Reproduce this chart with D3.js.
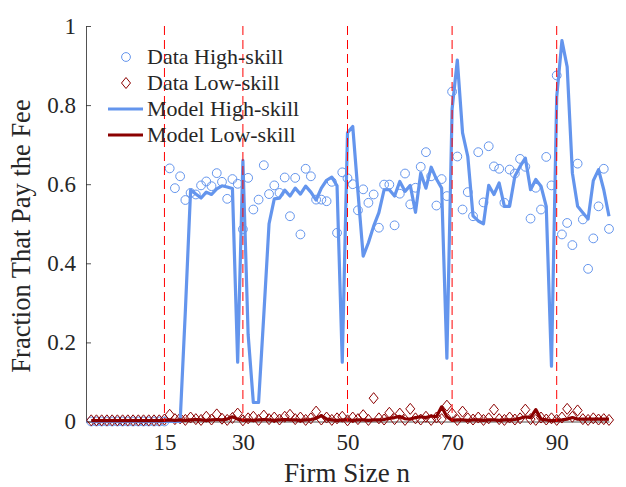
<!DOCTYPE html>
<html>
<head>
<meta charset="utf-8">
<script src="https://cdn.jsdelivr.net/npm/d3@7"></script>
<style>
  html, body { margin: 0; padding: 0; background: #fff; }
  svg { display: block; }
  text { font-family: 'Liberation Serif', 'Times New Roman', Times, 'DejaVu Serif', 'Noto Serif', serif; fill: #262626; }
</style>
</head>
<body>
<div class="graph"></div>
<script>
(function () {
  'use strict';

  // firm sizes 1..100
  var firmSize = d3.range(1, 101);

  var dataHigh = [
    0, 0, 0, 0, 0, 0, 0, 0, 0, 0,
    0, 0, 0, 0, 0, 0.64, 0.59, 0.62, 0.56, 0.578,
    0.574, 0.597, 0.607, 0.595, 0.628, 0.606, 0.563, 0.613, 0.601, 0.486,
    0.616, 0.536, 0.561, 0.648, 0.575, 0.597, 0.578, 0.617, 0.519, 0.616,
    0.473, 0.639, 0.62, 0.561, 0.561, 0.557, 0.606, 0.477, 0.63, 0.615,
    0.6, 0.534, 0.587, 0.553, 0.574, 0.49, 0.599, 0.599, 0.496, 0.576,
    0.627, 0.549, 0.591, 0.644, 0.681, 0.62, 0.546, 0.613, 0.57, 0.834,
    0.67, 0.536, 0.58, 0.519, 0.681, 0.554, 0.696, 0.645, 0.639, 0.553,
    0.637, 0.627, 0.664, 0.644, 0.513, 0.591, 0.536, 0.669, 0.597, 0.875,
    0.473, 0.502, 0.446, 0.652, 0.511, 0.386, 0.463, 0.544, 0.639, 0.487
  ];

  var dataLow = [
    0.003, 0.003, 0.003, 0.003, 0.003, 0.003, 0.003, 0.003, 0.003, 0.003,
    0.003, 0.003, 0.003, 0.003, 0.005, 0.017, 0.006, 0.008, 0.004, 0.01,
    0.006, 0.004, 0.012, 0.005, 0.018, 0.007, 0.004, 0.009, 0.02, 0.003,
    0.008, 0.012, 0.004, 0.015, 0.006, 0.01, 0.005, 0.012, 0.017, 0.006,
    0.01, 0.004, 0.008, 0.025, 0.005, 0.01, 0.004, 0.008, 0.012, 0.003,
    0.01, 0.006, 0.016, 0.004, 0.059, 0.008, 0.005, 0.022, 0.006, 0.02,
    0.004, 0.032, 0.008, 0.005, 0.012, 0.004, 0.01, 0.006, 0.04, 0.02,
    0.004, 0.025, 0.008, 0.005, 0.01, 0.004, 0.008, 0.03, 0.006, 0.004,
    0.01, 0.005, 0.008, 0.03, 0.006, 0.004, 0.01, 0.005, 0.008, 0.004,
    0.01, 0.032, 0.012, 0.028, 0.006, 0.004, 0.008, 0.005, 0.006, 0.004
  ];

  var modelHigh = [
    0, 0, 0, 0, 0, 0, 0, 0, 0, 0,
    0, 0, 0, 0, 0, 0, 0, 0, 0.28, 0.585,
    0.575, 0.565, 0.58, 0.574, 0.588, 0.596, 0.593, 0.589, 0.15, 0.66,
    0.22, 0.048, 0.048, 0.27, 0.5, 0.563, 0.565, 0.585, 0.57, 0.59,
    0.575, 0.595, 0.58, 0.56, 0.59, 0.61, 0.618, 0.596, 0.15, 0.73,
    0.746, 0.58, 0.418, 0.452, 0.494, 0.528, 0.586, 0.586, 0.57, 0.607,
    0.582, 0.597, 0.529, 0.628, 0.59, 0.643, 0.613, 0.59, 0.16, 0.79,
    0.914, 0.73, 0.67, 0.52, 0.507, 0.5, 0.597, 0.574, 0.603, 0.544,
    0.544, 0.62, 0.645, 0.666, 0.586, 0.612, 0.595, 0.544, 0.14, 0.82,
    0.963, 0.897, 0.628, 0.544, 0.528, 0.512, 0.609, 0.637, 0.586, 0.519
  ];

  var modelLow = [
    0.002, 0.002, 0.002, 0.002, 0.002, 0.002, 0.002, 0.002, 0.002, 0.002,
    0.002, 0.002, 0.002, 0.002, 0.003, 0.004, 0.003, 0.004, 0.003, 0.004,
    0.005, 0.004, 0.003, 0.004, 0.005, 0.004, 0.006, 0.012, 0.006, 0.003,
    0.004, 0.003, 0.004, 0.005, 0.004, 0.003, 0.004, 0.005, 0.004, 0.004,
    0.003, 0.004, 0.005, 0.008, 0.015, 0.006, 0.004, 0.003, 0.004, 0.004,
    0.003, 0.004, 0.004, 0.003, 0.004, 0.004, 0.005, 0.008, 0.01, 0.013,
    0.007, 0.006, 0.01, 0.012, 0.01, 0.014, 0.012, 0.037, 0.012, 0.003,
    0.004, 0.004, 0.003, 0.004, 0.004, 0.003, 0.004, 0.004, 0.003, 0.004,
    0.004, 0.005, 0.008, 0.012, 0.01, 0.03, 0.006, 0.004, 0.002, 0.003,
    0.004, 0.006, 0.01, 0.006, 0.006, 0.006, 0.006, 0.006, 0.006, 0.006
  ];

  var xTicks = [15, 30, 50, 70, 90];
  var yTicks = [0, 0.2, 0.4, 0.6, 0.8, 1];
  var cutoffs = [15, 30, 50, 70, 90];

  var legendLabels = ['Data High-skill', 'Data Low-skill',
                      'Model High-skill', 'Model Low-skill'];

  var width = 626;
  var height = 487;
  var blue = '#6495ed';
  var darkRed = '#8b0000';
  var serifFont = "'Liberation Serif', 'Times New Roman', Times, 'DejaVu Serif', 'Noto Serif', serif";

  var svg = d3.select('.graph').append('svg')
    .attr('width', width)
    .attr('height', height)
    .attr('font-family', serifFont);

  var x = d3.scaleLinear().domain([0, 100]).range([86, 609]);
  var y = d3.scaleLinear().domain([0, 1]).range([421.5, 26]);

  // axes (ticks pointing inward, no box)
  var xAxis = d3.axisBottom(x).tickValues(xTicks).tickSizeInner(-5)
    .tickSizeOuter(0).tickPadding(12).tickFormat(d3.format('d'));
  var yAxis = d3.axisLeft(y).tickValues(yTicks).tickSizeInner(-5)
    .tickSizeOuter(0).tickPadding(10)
    .tickFormat(function(d) { return d === 0 || d === 1 ? d : d3.format('.1f')(d); });

  var gx = svg.append('g')
    .attr('transform', 'translate(0,' + y(0) + ')')
    .call(xAxis);
  var gy = svg.append('g')
    .attr('transform', 'translate(' + x(0) + ',0)')
    .call(yAxis);

  [gx, gy].forEach(function(g) {
    g.attr('font-family', serifFont);
    g.select('.domain').attr('stroke', '#262626').attr('stroke-width', 0.8);
    g.selectAll('.tick line').attr('stroke', '#262626').attr('stroke-width', 0.8);
    g.selectAll('.tick text')
      .attr('font-size', 23)
      .attr('fill', '#262626');
  });
  gx.selectAll('.tick text').attr('dy', '0.71em');

  // data markers
  var circlePts = firmSize.map(function(n, i) { return [n, dataHigh[i]]; });
  var diamondPts = firmSize.map(function(n, i) { return [n, dataLow[i]]; });
  var diamondPath = 'M0,-5.5L4.5,0L0,5.5L-4.5,0Z';

  svg.append('g').selectAll('circle')
    .data(circlePts)
    .enter().append('circle')
    .attr('cx', function(d) { return x(d[0]); })
    .attr('cy', function(d) { return y(d[1]); })
    .attr('r', 4.4)
    .style('fill', 'none')
    .style('stroke', blue)
    .style('stroke-width', 1);

  svg.append('g').selectAll('path')
    .data(diamondPts)
    .enter().append('path')
    .attr('d', diamondPath)
    .attr('transform', function(d) {
      return 'translate(' + x(d[0]) + ',' + y(d[1]) + ')';
    })
    .style('fill', 'none')
    .style('stroke', darkRed)
    .style('stroke-width', 1);

  // model lines
  var line = d3.line()
    .x(function(d) { return x(d[0]); })
    .y(function(d) { return y(d[1]); });

  svg.append('path')
    .datum(firmSize.map(function(n, i) { return [n, modelHigh[i]]; }))
    .attr('d', line)
    .style('fill', 'none')
    .style('stroke', blue)
    .style('stroke-width', 3.2)
    .style('stroke-linejoin', 'round');

  svg.append('path')
    .datum(firmSize.map(function(n, i) { return [n, modelLow[i]]; }))
    .attr('d', line)
    .style('fill', 'none')
    .style('stroke', darkRed)
    .style('stroke-width', 3.2)
    .style('stroke-linejoin', 'round');

  // vertical cutoff lines
  svg.append('g').selectAll('line')
    .data(cutoffs)
    .enter().append('line')
    .attr('x1', function(d) { return x(d); })
    .attr('x2', function(d) { return x(d); })
    .attr('y1', y(1))
    .attr('y2', y(0))
    .style('stroke', '#ff0000')
    .style('stroke-width', 1)
    .style('stroke-dasharray', '9,5');

  // axis labels
  svg.append('text')
    .attr('x', 347)
    .attr('y', 482)
    .attr('text-anchor', 'middle')
    .attr('font-size', 27)
    .text('Firm Size n');

  svg.append('text')
    .attr('transform', 'translate(30,236) rotate(-90)')
    .attr('text-anchor', 'middle')
    .attr('font-size', 26.5)
    .text('Fraction That Pay the Fee');

  // legend
  var legend = svg.append('g');
  var rowY = [57, 83, 109, 135];
  legendLabels.forEach(function(label, i) {
    var ly = rowY[i];
    if (i === 0) {
      legend.append('circle')
        .attr('cx', 126).attr('cy', ly).attr('r', 4.4)
        .style('fill', 'none').style('stroke', blue).style('stroke-width', 1);
    } else if (i === 1) {
      legend.append('path')
        .attr('d', diamondPath)
        .attr('transform', 'translate(126,' + ly + ')')
        .style('fill', 'none').style('stroke', darkRed).style('stroke-width', 1);
    } else {
      legend.append('line')
        .attr('x1', 108).attr('x2', 143).attr('y1', ly).attr('y2', ly)
        .style('stroke', i === 2 ? blue : darkRed)
        .style('stroke-width', 3.2);
    }
    legend.append('text')
      .attr('x', 147)
      .attr('y', ly + 7)
      .attr('font-size', 22)
      .text(label);
  });
})();
</script>
</body>
</html>
